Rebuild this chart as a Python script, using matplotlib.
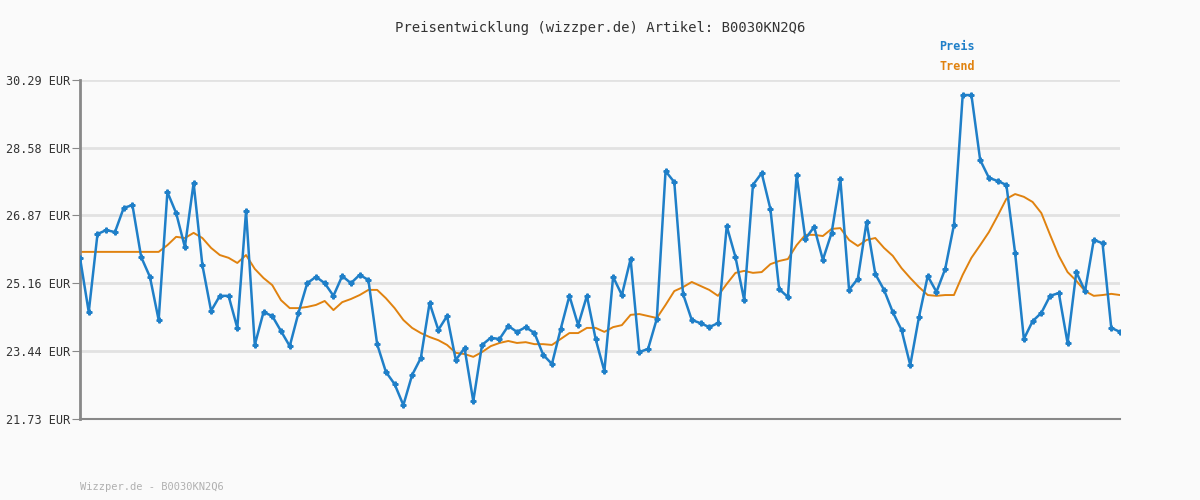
import numpy as np
import matplotlib
matplotlib.use("Agg")
import matplotlib.pyplot as plt

preis = [25.80, 24.43, 26.40, 26.50, 26.45, 27.06, 27.13, 25.82, 25.32, 24.23,
         27.46, 26.93, 26.07, 27.69, 25.62, 24.46, 24.84, 24.84, 24.03, 26.98,
         23.60, 24.43, 24.33, 23.95, 23.57, 24.41, 25.16, 25.32, 25.16, 24.84,
         25.34, 25.16, 25.37, 25.24, 23.62, 22.92, 22.61, 22.08, 22.84, 23.27,
         24.66, 23.98, 24.33, 23.22, 23.52, 22.18, 23.60, 23.78, 23.75, 24.08,
         23.93, 24.05, 23.90, 23.35, 23.12, 24.00, 24.84, 24.10, 24.84, 23.75,
         22.94, 25.32, 24.86, 25.77, 23.42, 23.50, 24.26, 27.99, 27.71, 24.89,
         24.23, 24.15, 24.05, 24.15, 26.60, 25.82, 24.73, 27.64, 27.94, 27.03,
         25.01, 24.81, 27.89, 26.28, 26.58, 25.75, 26.43, 27.79, 24.99, 25.27,
         26.70, 25.39, 24.99, 24.43, 23.98, 23.09, 24.31, 25.34, 24.94, 25.52,
         26.63, 29.91, 29.91, 28.27, 27.82, 27.74, 27.64, 25.92, 23.75, 24.20,
         24.41, 24.84, 24.91, 23.65, 25.44, 24.96, 26.25, 26.17, 24.03, 23.93]

trend = [25.95] * 10 + [
    26.12, 26.33, 26.30, 26.43, 26.30, 26.05, 25.87, 25.80, 25.67, 25.87,
    25.52, 25.29, 25.11, 24.73, 24.53, 24.53, 24.56, 24.61, 24.71, 24.48,
    24.68, 24.76, 24.86, 24.99, 24.99, 24.78, 24.53, 24.23, 24.03, 23.90,
    23.80, 23.72, 23.60, 23.40, 23.37, 23.30, 23.42, 23.57, 23.65, 23.70,
    23.65, 23.67, 23.62, 23.62, 23.60, 23.75, 23.90, 23.90, 24.03, 24.03,
    23.93, 24.05, 24.10, 24.36, 24.38, 24.33, 24.28, 24.61, 24.96, 25.06,
    25.19, 25.09, 24.99, 24.84, 25.14, 25.42, 25.47, 25.42, 25.44, 25.64,
    25.72, 25.77, 26.12, 26.38, 26.38, 26.35, 26.53, 26.55, 26.25, 26.10,
    26.25, 26.30, 26.05, 25.85, 25.54, 25.29, 25.06, 24.86, 24.84, 24.86,
    24.86, 25.37, 25.80, 26.12, 26.45, 26.86, 27.29, 27.41, 27.34, 27.21,
    26.93, 26.38, 25.85, 25.44, 25.22, 24.96, 24.84, 24.86, 24.89, 24.86]

yticks = [21.73, 23.44, 25.16, 26.87, 28.58, 30.29]

blue = "#1f7fc8"
orange = "#e0820f"
mono = "DejaVu Sans Mono"

fig = plt.figure(figsize=(12, 5), dpi=100, facecolor="#fafafa")
ax = fig.add_axes([80 / 1200, 1 - 419 / 500, 1040 / 1200, 339 / 500])
ax.set_facecolor("#fafafa")

xp = np.linspace(0, 1, len(preis))
xt = np.linspace(0, 1, len(trend))
ax.plot(xt, trend, color=orange, lw=1.4, zorder=2)
ax.plot(xp, preis, color=blue, lw=1.8, marker="P", ms=3.5, zorder=3)

ax.set_xlim(0, 1)
ax.set_ylim(21.73, 30.29)
ax.set_yticks(yticks)
ax.set_yticklabels([f"{v:.2f} EUR" for v in yticks], family=mono, fontsize=8.5, color="#333333")
ax.set_xticks([])
ax.tick_params(axis="y", length=6, pad=1, color="#888888")
ax.grid(axis="y", color="#e2e2e2", lw=2)
ax.set_axisbelow(True)
for s in ["top", "right"]:
    ax.spines[s].set_visible(False)
ax.spines["left"].set_color("#888888")
ax.spines["left"].set_linewidth(2)
ax.spines["bottom"].set_color("#888888")
ax.spines["bottom"].set_linewidth(1.5)

fig.text(0.5, 1 - 28 / 500, "Preisentwicklung (wizzper.de) Artikel: B0030KN2Q6",
         ha="center", va="center", family=mono, fontsize=10, color="#333333")
fig.text(957 / 1200, 1 - 47 / 500, "Preis", ha="center", va="center",
         family=mono, fontsize=8.5, color=blue, weight="bold")
fig.text(957 / 1200, 1 - 67 / 500, "Trend", ha="center", va="center",
         family=mono, fontsize=8.5, color=orange, weight="bold")
fig.text(80 / 1200, 1 - 487 / 500, "Wizzper.de - B0030KN2Q6", ha="left", va="center",
         family=mono, fontsize=7.5, color="#b0b0b0")

fig.savefig("out.png", facecolor=fig.get_facecolor())
